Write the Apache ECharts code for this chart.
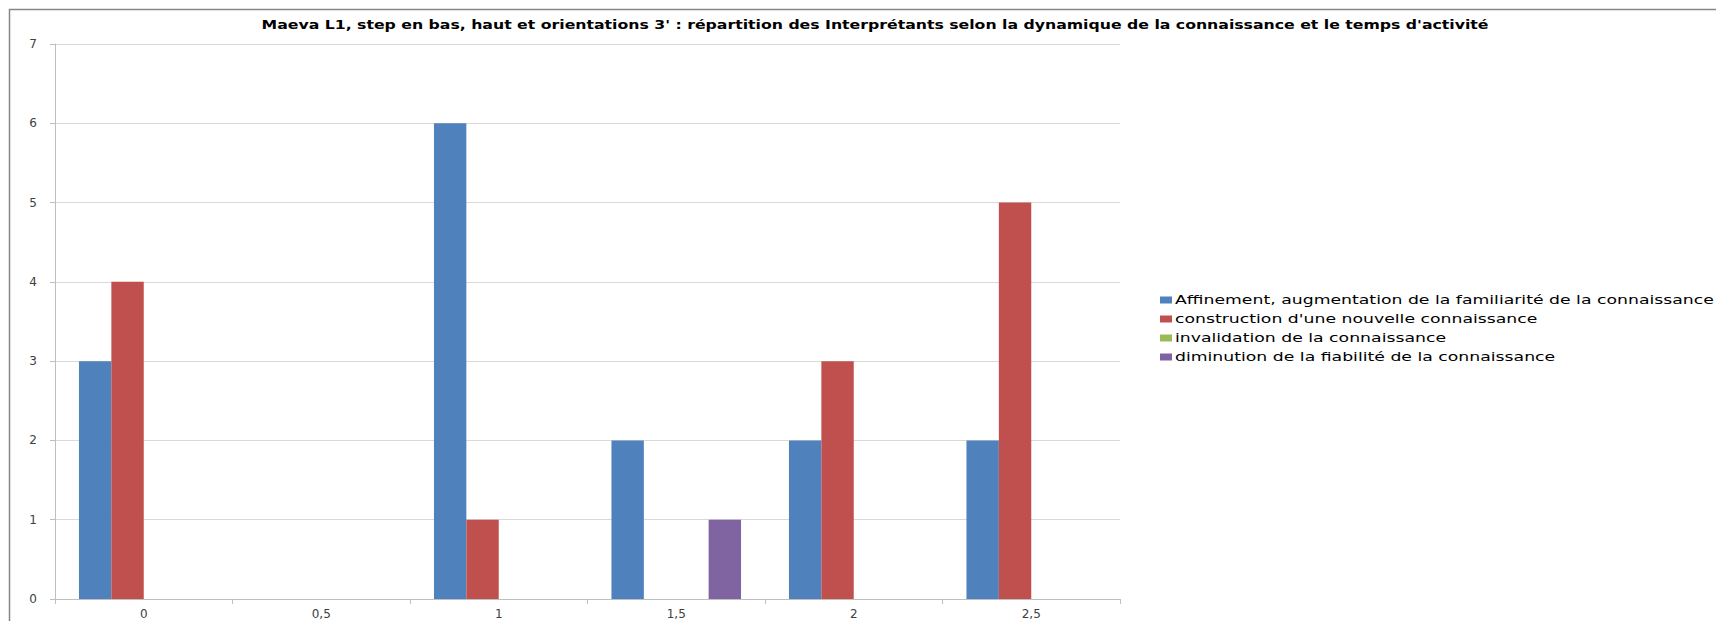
<!DOCTYPE html>
<html><head><meta charset="utf-8">
<script src="https://cdn.jsdelivr.net/npm/echarts@6/dist/echarts.min.js"></script>
<style>html,body{margin:0;padding:0;background:#fff}#c{width:1716px;height:621px}</style>
</head><body><div id="c"></div>
<script>
const categories = ['0', '0,5', '1', '1,5', '2', '2,5'];
const seriesNames = [
  'Affinement, augmentation de la familiarité de la connaissance',
  "construction d'une nouvelle connaissance",
  'invalidation de la connaissance',
  'diminution de la fiabilité de la connaissance'
];
const affinement = [3, 0, 6, 2, 2, 2];
const construction = [4, 0, 1, 0, 3, 5];
const invalidation = [0, 0, 0, 0, 0, 0];
const diminution = [0, 0, 0, 1, 0, 0];
const yTicks = [0, 1, 2, 3, 4, 5, 6, 7];
const colors = ['#4F81BD', '#C0504D', '#9BBB59', '#8064A2'];
const values = [affinement, construction, invalidation, diminution];
const titleText = "Maeva L1, step en bas, haut et orientations 3' : répartition des Interprétants selon la dynamique de la connaissance et le temps d'activité";

const chart = echarts.init(document.getElementById('c'), null, {renderer: 'svg'});
chart.setOption({
  animation: false,
  color: colors,
  textStyle: {fontFamily: 'DejaVu Sans'},
  title: {
    text: titleText,
    left: 870, top: 14, textAlign: 'center',
    textStyle: {fontSize: 12, fontWeight: 'bold', color: '#000', fontFamily: 'DejaVu Sans'}
  },
  legend: {
    orient: 'vertical', left: 1155, top: 289, itemWidth: 12, itemHeight: 7, itemGap: 7,
    icon: 'rect',
    textStyle: {fontSize: 12, color: '#000', padding: [0,0,0,-2]},
    data: seriesNames
  },
  graphic: [{type: 'rect', shape: {x: 9.5, y: 9.5, width: 1800, height: 700}, style: {fill: 'none', stroke: '#878787', lineWidth: 1.5}, silent: true}],
  grid: {left: 55, top: 44, width: 1065, height: 555, containLabel: false},
  xAxis: {
    type: 'category', data: categories,
    axisLine: {lineStyle: {color: '#BFBFBF'}},
    axisTick: {show: true, alignWithLabel: false, length: 5, lineStyle: {color: '#BFBFBF'}},
    axisLabel: {color: '#404040', fontSize: 12, margin: 9}
  },
  yAxis: {
    type: 'value', min: 0, max: 7, interval: 1,
    axisLine: {show: true, lineStyle: {color: '#BFBFBF'}},
    axisTick: {show: true, length: 5, lineStyle: {color: '#BFBFBF'}},
    axisLabel: {color: '#404040', fontSize: 12, margin: 18, formatter: v => yTicks.includes(v) ? String(v) : ''},
    splitLine: {lineStyle: {color: '#D9D9D9'}}
  },
  series: values.map((d, i) => ({
    name: seriesNames[i], type: 'bar', data: d,
    barGap: '0%', barCategoryGap: '27%',
    itemStyle: {color: colors[i]}
  }))
});

// stretch the title and legend glyphs horizontally (about each text's anchor point)
function stretchTexts() {
  document.querySelectorAll('#c svg text').forEach(t => {
    if (t.getAttribute('data-stretched')) return;
    const s = t.textContent;
    let k = 0;
    if (s === titleText) k = 1.31;
    else if (seriesNames.includes(s)) k = 1.44;
    if (!k) return;
    const x = parseFloat(t.getAttribute('x') || '0');
    const y = parseFloat(t.getAttribute('y') || '0');
    const tr = t.getAttribute('transform') || '';
    t.setAttribute('x', '0');
    t.setAttribute('y', '0');
    t.setAttribute('transform', (tr + ' translate(' + x + ',' + y + ') scale(' + k + ',1)').trim());
    t.setAttribute('data-stretched', '1');
  });
}
stretchTexts();
</script></body></html>
